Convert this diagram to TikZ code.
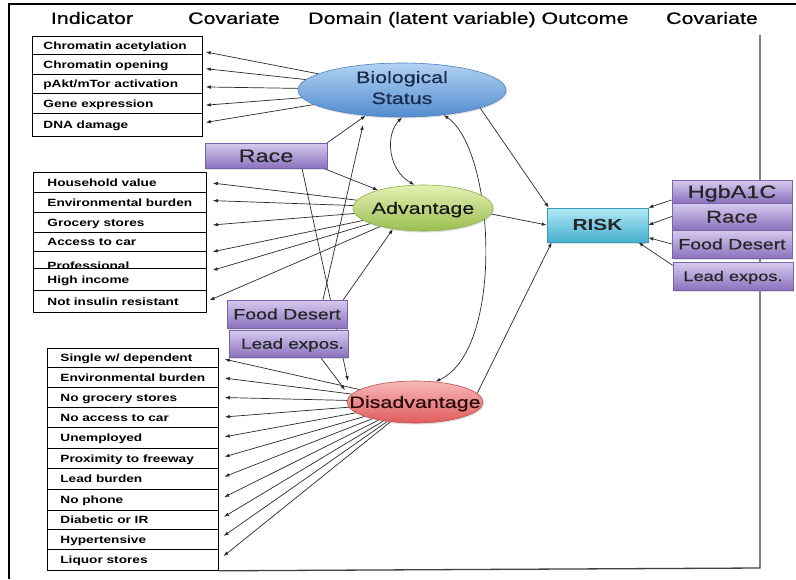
\documentclass[tikz,border=0pt]{standalone}
\usepackage{fontspec}
\newfontfamily\dfont[FakeStretch=1.3]{Liberation Sans}
\newfontfamily\lfont[FakeStretch=1.3,FakeBold=0.5]{Liberation Sans}
\usetikzlibrary{shapes.geometric,arrows.meta,shadows,backgrounds}
\newcommand{\ctx}[1]{\makebox[0pt]{\raisebox{-0.36em}[0pt][0pt]{#1}}}
\newcommand{\rtx}[3]{\makebox[#1][l]{\hspace*{#2}\raisebox{-0.36em}[0pt][0pt]{#3}}}
\definecolor{linec}{HTML}{2A2A2A}
\begin{document}
\begin{tikzpicture}[x=1pt,y=-1pt,
  hdr/.style={inner sep=0pt,font=\lfont\fontsize{16.5}{19}\selectfont},
  rowbox/.style={draw=black,line width=0.8pt,inner sep=0pt,anchor=north west,
    font=\dfont\fontsize{10.5}{12}\selectfont\bfseries},
  shad/.style={drop shadow={opacity=0.25,shadow xshift=1pt,shadow yshift=-1.5pt}},
  ell/.style={ellipse,inner sep=0pt,line width=0.6pt,shad,font=\lfont\fontsize{16.5}{19}\selectfont},
  pbox/.style={rectangle,inner sep=0pt,line width=0.6pt,shad,top color=purpTop,bottom color=purpBot,draw=purpDraw,text=black!85},
  arr/.style={draw=linec,line width=0.7pt,-{Latex[length=5pt,width=3.6pt]}},
  dbl/.style={draw=linec,line width=0.7pt,{Latex[length=5pt,width=3.6pt]}-{Latex[length=5pt,width=3.6pt]}}
]
\definecolor{purpTop}{HTML}{D6CBEF}
\definecolor{purpBot}{HTML}{8C72BE}
\definecolor{purpDraw}{HTML}{7A62AC}
\useasboundingbox (0,0) rectangle (796,579);

% headers
\node[hdr] (h1) at (92,18) {\ctx{Indicator}};
\node[hdr] (h2) at (234,18) {\ctx{Covariate}};
\node[hdr] (h3) at (422,18) {\ctx{Domain (latent variable)}};
\node[hdr] (h4) at (585,18) {\ctx{Outcome}};
\node[hdr] (h5) at (712,18) {\ctx{Covariate}};

% table 1
\node[rowbox,minimum height=18pt] (b1) at (32,36) {\rtx{170pt}{11pt}{Chromatin acetylation}};
\node[rowbox,minimum height=20pt] (b2) at (32,54) {\rtx{170pt}{11pt}{Chromatin opening}};
\node[rowbox,minimum height=19pt] (b3) at (32,74) {\rtx{170pt}{11pt}{pAkt/mTor activation}};
\node[rowbox,minimum height=20pt] (b4) at (32,93) {\rtx{170pt}{11pt}{Gene expression}};
\node[rowbox,minimum height=23pt] (b5) at (32,113) {\rtx{170pt}{11pt}{DNA damage}};

% table 2
\node[rowbox,minimum height=20pt] (a1) at (33,172) {\rtx{173pt}{14pt}{Household value}};
\node[rowbox,minimum height=20pt] (a2) at (33,192) {\rtx{173pt}{14pt}{Environmental burden}};
\node[rowbox,minimum height=20pt] (a3) at (33,212) {\rtx{173pt}{14pt}{Grocery stores}};
\node[rowbox,minimum height=19pt] (a4) at (33,232) {\rtx{173pt}{14pt}{Access to car}};
\node[rowbox,minimum height=17pt] (a5) at (33,251) {\makebox[173pt][l]{\hspace*{14pt}\raisebox{-10pt}[0pt][0pt]{Professional}}};
\node[rowbox,minimum height=22pt] (a6) at (33,268) {\rtx{173pt}{14pt}{High income}};
\node[rowbox,minimum height=22pt] (a7) at (33,290) {\rtx{173pt}{14pt}{Not insulin resistant}};

% table 3
\node[rowbox,minimum height=19pt] (d1) at (47,348) {\rtx{171pt}{13pt}{Single w/ dependent}};
\node[rowbox,minimum height=20pt] (d2) at (47,367) {\rtx{171pt}{13pt}{Environmental burden}};
\node[rowbox,minimum height=20pt] (d3) at (47,387) {\rtx{171pt}{13pt}{No grocery stores}};
\node[rowbox,minimum height=20pt] (d4) at (47,407) {\rtx{171pt}{13pt}{No access to car}};
\node[rowbox,minimum height=21pt] (d5) at (47,427) {\rtx{171pt}{13pt}{Unemployed}};
\node[rowbox,minimum height=20pt] (d6) at (47,448) {\rtx{171pt}{13pt}{Proximity to freeway}};
\node[rowbox,minimum height=21pt] (d7) at (47,468) {\rtx{171pt}{13pt}{Lead burden}};
\node[rowbox,minimum height=21pt] (d8) at (47,489) {\rtx{171pt}{13pt}{No phone}};
\node[rowbox,minimum height=19pt] (d9) at (47,510) {\rtx{171pt}{13pt}{Diabetic or IR}};
\node[rowbox,minimum height=20pt] (d10) at (47,529) {\rtx{171pt}{13pt}{Hypertensive}};
\node[rowbox,minimum height=21pt] (d11) at (47,549) {\rtx{171pt}{13pt}{Liquor stores}};

% latent ellipses
\node[ell,minimum width=208pt,minimum height=54pt,top color={rgb,255:red,178;green,210;blue,242},bottom color={rgb,255:red,82;green,140;blue,208},draw={rgb,255:red,79;green,129;blue,189},text={rgb,255:red,27;green,42;blue,74}] (bio) at (402,90)
  {\makebox[0pt]{\raisebox{7pt}[0pt][0pt]{Biological}}\makebox[0pt]{\raisebox{-14pt}[0pt][0pt]{Status}}};
\node[ell,minimum width=140pt,minimum height=46pt,top color={rgb,255:red,228;green,240;blue,180},bottom color={rgb,255:red,155;green,190;blue,80},draw={rgb,255:red,143;green,176;blue,74},text=black!90] (adv) at (423,208) {\ctx{Advantage}};
\node[ell,minimum width=136pt,minimum height=42pt,top color={rgb,255:red,247;green,185;blue,185},bottom color={rgb,255:red,224;green,92;blue,92},draw={rgb,255:red,192;green,80;blue,77},text={rgb,255:red,40;green,10;blue,10}] (dis) at (415,402) {\ctx{Disadvantage}};

% covariate boxes (left)
\node[pbox,minimum width=122pt,minimum height=25pt,font=\lfont\fontsize{18}{20}\selectfont] (raceL) at (266,155.5) {\ctx{Race}};
\node[pbox,minimum width=120pt,minimum height=28pt,font=\lfont\fontsize{15}{17}\selectfont] (fdL) at (287,314) {\ctx{Food Desert}};
\node[pbox,minimum width=119pt,minimum height=27pt,font=\lfont\fontsize{14.5}{17}\selectfont] (leadL) at (288.5,343.5) {\ctx{\hspace*{8pt}Lead expos.}};

% outcome
\node[rectangle,inner sep=0pt,line width=0.6pt,shad,minimum width=101pt,minimum height=34pt,top color={rgb,255:red,178;green,232;blue,246},bottom color={rgb,255:red,70;green,176;blue,207},draw={rgb,255:red,58;green,156;blue,184},text=black!85,font=\dfont\fontsize{16}{18}\selectfont\bfseries] (risk) at (597.5,225) {\ctx{RISK}};

% covariate boxes (right)
\node[pbox,minimum width=120pt,minimum height=23pt,font=\lfont\fontsize{18}{20}\selectfont] (hgb) at (732,191.5) {\ctx{HgbA1C}};
\node[pbox,minimum width=120pt,minimum height=27pt,font=\lfont\fontsize{17}{20}\selectfont] (race2) at (732,216.5) {\ctx{Race}};
\node[pbox,minimum width=120pt,minimum height=28pt,font=\lfont\fontsize{15}{17}\selectfont] (fd2) at (732,244) {\ctx{Food Desert}};
\node[pbox,minimum width=120pt,minimum height=28pt,font=\lfont\fontsize{14}{17}\selectfont] (lead2) at (733,276) {\ctx{Lead expos.}};

\coordinate (bioFD) at (363,125);
\coordinate (disR) at (348,381);
\coordinate (disL) at (345,390);

\begin{scope}[on background layer]
  \fill[white] (0,0) rectangle (796,579);
  % frame
  \draw[line width=2.2pt,black] (796,4) -- (9,4) -- (9,579);
  \draw[line width=1.3pt,black!75] (760,35) -- (760,568) -- (d11.south east);
  % biological indicators
  \draw[arr,shorten >=3pt] (bio) -- ([yshift=-6pt]b1.east);
  \draw[arr,shorten >=3pt] (bio) -- ([yshift=-4pt]b2.east);
  \draw[arr,shorten >=3pt] (bio) -- ([yshift=-3pt]b3.east);
  \draw[arr,shorten >=3pt] (bio) -- ([yshift=-2pt]b4.east);
  \draw[arr,shorten >=3pt] (bio) -- ([yshift=2pt]b5.east);
  % advantage indicators
  \draw[arr,shorten >=6pt] (adv) -- (a1.east);
  \draw[arr,shorten >=6pt] (adv) -- ([yshift=2pt]a2.east);
  \draw[arr,shorten >=6pt] (adv) -- ([yshift=-3pt]a3.east);
  \draw[arr,shorten >=6pt] (adv) -- ([yshift=-2pt]a5.north east);
  \draw[arr,shorten >=6pt] (adv) -- ([yshift=-4pt]a6.north east);
  \draw[arr,shorten >=3pt] (adv) -- (a7.east);
  % disadvantage indicators
  \foreach \k in {1,...,11} {\draw[arr,shorten >=6pt] (dis) -- (d\k.east);}
  % covariates to domains
  \draw[arr] (raceL.north east) -- (bio);
  \draw[arr] ([xshift=36pt]fdL.north) -- (bioFD);
  \draw[arr] ([xshift=-4pt]raceL.south east) -- (adv);
  \draw[arr] ([xshift=-4pt]fdL.north east) -- (adv.215);
  \draw[arr] ([xshift=36pt]raceL.south) -- (disR);
  \draw[arr] ([xshift=32pt]leadL.south) -- (disL);
  % covariances
  \draw[dbl] (bio.270) .. controls (385,135) and (388,170) .. (adv.110);
  \draw[dbl] (bio.329) .. controls (495,150) and (505,350) .. (dis.45);
  % to outcome
  \draw[arr] (bio.347) -- ([xshift=2pt]risk.north west);
  \draw[arr] (adv.-5) -- (risk.west);
  \draw[arr] (dis.8) -- ([xshift=5pt]risk.south west);
  \draw[arr] (hgb.188) -- (risk.north east);
  \draw[arr] (race2.west) -- (risk.east);
  \draw[arr] (fd2.west) -- (risk.-14);
  \draw[arr] (lead2.170) -- ([xshift=-10pt]risk.south east);
\end{scope}
\end{tikzpicture}
\end{document}
